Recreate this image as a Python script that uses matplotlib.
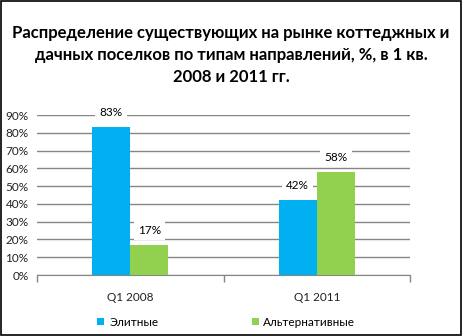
import matplotlib
matplotlib.use("Agg")
import matplotlib.pyplot as plt
from matplotlib.patches import Patch, Rectangle
import numpy as np

categories = ["Q1 2008", "Q1 2011"]
series_names = ["Элитные", "Альтернативные"]
elite = [83, 42]
alternative = [17, 58]
yticks = [0, 10, 20, 30, 40, 50, 60, 70, 80, 90]
title = "Распределение существующих на рынке коттеджных и\nдачных поселков по типам направлений, %, в 1 кв.\n2008 и 2011 гг."

colors = ["#00B0F0", "#92D050"]
font = "Lato"
plt.rcParams['font.family'] = [font, 'DejaVu Sans']

fig = plt.figure(figsize=(4.62, 3.36), dpi=100)
fig.patch.set_facecolor("white")
fig.patches.append(Rectangle((0.0015, 0.002), 0.997, 0.996, transform=fig.transFigure,
                             fill=False, edgecolor="black", linewidth=1.2))

ax = fig.add_axes([37/462, 1-275/336, (410-37)/462, (275-115)/336])
x = np.arange(len(categories))
w = 0.205
b1 = ax.bar(x - w/2, elite, w, color=colors[0], zorder=3)
b2 = ax.bar(x + w/2, alternative, w, color=colors[1], zorder=3)

ax.set_xlim(-0.5, 1.5)
ax.set_ylim(0, 90)
ax.set_yticks(yticks)
ax.set_yticklabels([f"{t}%" for t in yticks], fontsize=8.5, color="#222222")
ax.yaxis.grid(True, color="#868686", linewidth=1, zorder=0)
ax.set_axisbelow(True)
ax.tick_params(axis="y", length=0, pad=6)
ax.set_xticks([-0.5, 0.5, 1.5])
ax.set_xticklabels([])
ax.set_xticks(x, minor=True)
ax.set_xticklabels(categories, minor=True, fontsize=8.5, color="#222222")
ax.tick_params(axis="x", which="major", length=5, color="#868686", width=1)
ax.tick_params(axis="x", which="minor", length=0, pad=12)
for s in ["top", "right", "left"]:
    ax.spines[s].set_visible(False)
ax.spines["bottom"].set_color("#868686")

for bars, vals in [(b1, elite), (b2, alternative)]:
    for rect, v in zip(bars, vals):
        ax.annotate(f"{v}%", (rect.get_x() + rect.get_width()/2, v),
                    xytext=(0, 10.5), textcoords="offset points",
                    ha="center", va="center", fontsize=8.5, color="black",
                    bbox=dict(boxstyle="square,pad=0.35", fc="white", ec="none"),
                    zorder=4)

fig.text(0.5, 1-55/336, title, ha="center", va="center", fontsize=12,
         fontweight="bold", linespacing=1.45)

handles = [Patch(facecolor=c, edgecolor="none") for c in colors]
fig.legend(handles, series_names, loc="center", bbox_to_anchor=(0.49, 1-322/336),
           ncol=2, frameon=False, fontsize=8.5, handlelength=0.6, handleheight=0.6,
           handletextpad=0.4, columnspacing=7.9)

fig.savefig("out.png", dpi=100)
